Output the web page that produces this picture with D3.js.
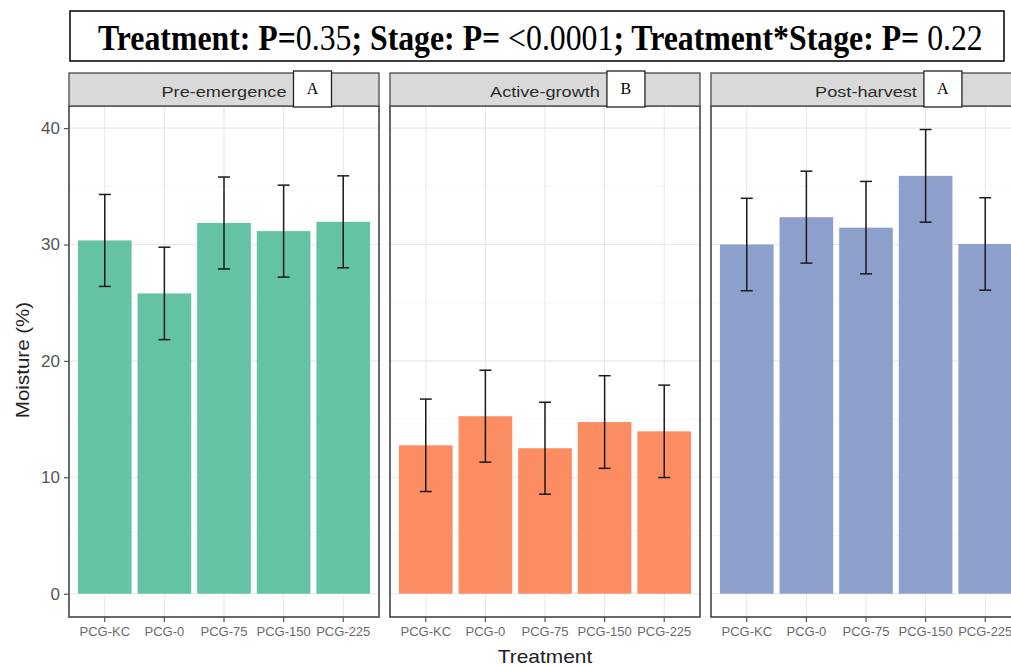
<!DOCTYPE html>
<html><head><meta charset="utf-8">
<script src="https://cdn.jsdelivr.net/npm/d3@7"></script>
<style>body{margin:0;background:#fff}svg{display:block}</style>
</head><body>
<svg id="chart" width="1011" height="668"></svg>
<script>
// ---- data ----
const treatments = ["PCG-KC", "PCG-0", "PCG-75", "PCG-150", "PCG-225"];
const stages = ["Pre-emergence", "Active-growth", "Post-harvest"];
const stageLetters = ["A", "B", "A"];
const preMean = [30.35, 25.8, 31.85, 31.15, 31.95];
const preSE = [3.95, 3.97, 3.95, 3.95, 3.95];
const activeMean = [12.75, 15.25, 12.5, 14.75, 13.95];
const activeSE = [3.97, 3.95, 3.95, 3.98, 3.97];
const postMean = [30.0, 32.35, 31.45, 35.9, 30.05];
const postSE = [3.97, 3.95, 3.97, 3.98, 3.97];
const yTicks = [0, 10, 20, 30, 40];
const yMinorTicks = [5, 15, 25, 35];
const stageColors = ["#66c2a5", "#fc8d62", "#8da0cb"];
const titleParts = [
  {t: "Treatment: P=", b: true}, {t: "0.35", b: false},
  {t: "; Stage: P= ", b: true}, {t: "<0.0001", b: false},
  {t: "; Treatment*Stage: P= ", b: true}, {t: "0.22", b: false}
];
const means = [preMean, activeMean, postMean];
const ses = [preSE, activeSE, postSE];

// ---- layout ----
const svg = d3.select("#chart");
const panelLeft = 69, panelW = 310, panelGap = 11;
const stripTop = 73, panelTop = 106, panelBottom = 617;

const y = d3.scaleLinear().domain([-2.0, 41.9]).range([panelBottom, panelTop]);
const x = d3.scaleBand().domain(treatments).range([0, panelW]).paddingInner(0.1).paddingOuter(0.15);
const step = x.step();

// ---- title box ----
svg.append("rect").attr("x", 70).attr("y", 11).attr("width", 934).attr("height", 50)
  .attr("fill", "#fff").attr("stroke", "#000").attr("stroke-width", 1.5);
const titleG = svg.append("g");
const title = titleG.append("text").attr("x", 0).attr("y", 0)
  .attr("font-family", "'Liberation Serif','Times New Roman',serif").attr("font-size", 35)
  .attr("fill", "#000");
titleParts.forEach(p => title.append("tspan").text(p.t).attr("font-weight", p.b ? "bold" : "normal"));
const natural = title.node().getComputedTextLength();
titleG.attr("transform", `translate(98,50) scale(${885 / natural},1)`);

// ---- panels ----
stages.forEach((stage, i) => {
  const px = panelLeft + i * (panelW + panelGap);
  const g = svg.append("g").attr("transform", `translate(${px},0)`);

  g.append("rect").attr("x", 0).attr("y", panelTop).attr("width", panelW).attr("height", panelBottom - panelTop)
    .attr("fill", "#fff");
  g.selectAll(".ymin").data(yMinorTicks).join("line")
    .attr("x1", 0).attr("x2", panelW).attr("y1", d => y(d)).attr("y2", d => y(d))
    .attr("stroke", "#f3f3f3").attr("stroke-width", 0.8);
  g.selectAll(".ymaj").data(yTicks).join("line")
    .attr("x1", 0).attr("x2", panelW).attr("y1", d => y(d)).attr("y2", d => y(d))
    .attr("stroke", "#e8e8e8").attr("stroke-width", 1.1);
  g.selectAll(".xmaj").data(treatments).join("line")
    .attr("x1", d => x(d) + x.bandwidth() / 2).attr("x2", d => x(d) + x.bandwidth() / 2)
    .attr("y1", panelTop).attr("y2", panelBottom)
    .attr("stroke", "#e8e8e8").attr("stroke-width", 1.1);

  const data = treatments.map((t, k) => ({t, m: means[i][k], se: ses[i][k]}));
  g.selectAll(".bar").data(data).join("rect")
    .attr("x", d => x(d.t)).attr("width", x.bandwidth())
    .attr("y", d => y(d.m)).attr("height", d => y(0) - y(d.m))
    .attr("fill", stageColors[i]);

  const cx = d => x(d.t) + x.bandwidth() / 2;
  const capW = step * 0.2;
  const eb = g.selectAll(".eb").data(data).join("g").attr("stroke", "#1a1a1a").attr("stroke-width", 1.5);
  eb.append("line").attr("x1", cx).attr("x2", cx).attr("y1", d => y(d.m + d.se)).attr("y2", d => y(d.m - d.se));
  eb.append("line").attr("x1", d => cx(d) - capW / 2).attr("x2", d => cx(d) + capW / 2)
    .attr("y1", d => y(d.m + d.se)).attr("y2", d => y(d.m + d.se));
  eb.append("line").attr("x1", d => cx(d) - capW / 2).attr("x2", d => cx(d) + capW / 2)
    .attr("y1", d => y(d.m - d.se)).attr("y2", d => y(d.m - d.se));

  g.append("rect").attr("x", 0).attr("y", panelTop).attr("width", panelW).attr("height", panelBottom - panelTop)
    .attr("fill", "none").attr("stroke", "#444").attr("stroke-width", 1.6);

  g.append("rect").attr("x", 0).attr("y", stripTop).attr("width", panelW).attr("height", panelTop - stripTop)
    .attr("fill", "#d9d9d9").attr("stroke", "#555").attr("stroke-width", 1.4);
  const st = g.append("text").attr("x", panelW / 2).attr("y", 96.5).attr("text-anchor", "middle")
    .attr("font-family", "'Liberation Sans',Arial,sans-serif").attr("font-size", 15.5)
    .attr("fill", "#2b2b2b").text(stage);
  const len = st.node().getComputedTextLength() * 1.17;
  st.attr("textLength", len).attr("lengthAdjust", "spacingAndGlyphs");
  const bx = panelW / 2 + len / 2 + 7, bw = 38;
  g.append("rect").attr("x", bx).attr("y", 71).attr("width", bw).attr("height", 36)
    .attr("fill", "#fff").attr("stroke", "#222").attr("stroke-width", 1.3);
  g.append("text").attr("x", bx + bw / 2).attr("y", 94).attr("text-anchor", "middle")
    .attr("font-family", "'Liberation Serif','Times New Roman',serif").attr("font-size", 16)
    .attr("fill", "#000").text(stageLetters[i]);

  const xa = g.append("g").attr("transform", `translate(0,${panelBottom})`)
    .call(d3.axisBottom(x).tickSize(5).tickPadding(5));
  xa.select(".domain").remove();
  xa.selectAll(".tick line").attr("stroke", "#555").attr("stroke-width", 1.2);
  xa.selectAll(".tick text").attr("font-family", "'Liberation Sans',Arial,sans-serif")
    .attr("font-size", 13).attr("fill", "#6a6a6a");

  if (i === 0) {
    const ya = g.append("g").call(d3.axisLeft(y).tickValues(yTicks).tickSize(5).tickPadding(4));
    ya.select(".domain").remove();
    ya.selectAll(".tick line").attr("stroke", "#555").attr("stroke-width", 1.2);
    ya.selectAll(".tick text").attr("font-family", "'Liberation Sans',Arial,sans-serif")
      .attr("font-size", 17).attr("fill", "#555");
  }
});

const xt = svg.append("text").attr("x", 545).attr("y", 663).attr("text-anchor", "middle")
  .attr("font-family", "'Liberation Sans',Arial,sans-serif").attr("font-size", 19).attr("fill", "#222")
  .text("Treatment");
xt.attr("textLength", xt.node().getComputedTextLength() * 1.1).attr("lengthAdjust", "spacingAndGlyphs");
const yt = svg.append("text").attr("transform", "translate(29,360) rotate(-90)").attr("text-anchor", "middle")
  .attr("font-family", "'Liberation Sans',Arial,sans-serif").attr("font-size", 19).attr("fill", "#222")
  .text("Moisture (%)");
yt.attr("textLength", yt.node().getComputedTextLength() * 1.08).attr("lengthAdjust", "spacingAndGlyphs");
</script>
</body></html>
